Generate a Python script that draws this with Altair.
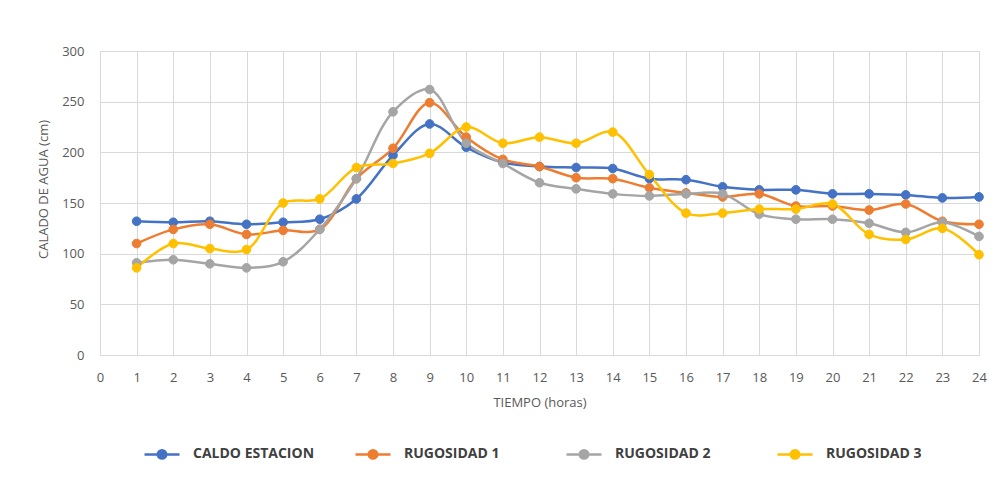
import altair as alt
import pandas as pd

hours = list(range(1, 25))
series_names = ["CALDO ESTACION", "RUGOSIDAD 1", "RUGOSIDAD 2", "RUGOSIDAD 3"]
caldo = [132, 131, 132, 129, 131, 134, 154, 197, 228, 205, 190, 186, 185, 184, 174, 173, 166, 163, 163, 159, 159, 158, 155, 156]
rug1 = [110, 124, 129, 119, 123, 124, 174, 204, 249, 215, 193, 186, 175, 174, 165, 160, 156, 159, 147, 147, 143, 149, 132, 129]
rug2 = [91, 94, 90, 86, 92, 124, 174, 240, 262, 209, 189, 170, 164, 159, 157, 159, 159, 139, 134, 134, 130, 121, 131, 117]
rug3 = [86, 110, 105, 104, 150, 154, 185, 189, 199, 225, 209, 215, 209, 220, 178, 140, 140, 144, 144, 149, 119, 114, 125, 99]
colors = ["#4472C4", "#ED7D31", "#A5A5A5", "#FFC000"]
x_ticks = list(range(0, 25))
y_ticks = [0, 50, 100, 150, 200, 250, 300]

rows = []
for name, vals in zip(series_names, [caldo, rug1, rug2, rug3]):
    for h, v in zip(hours, vals):
        rows.append({"hora": h, "calado": v, "serie": name, "orden": series_names.index(name)})
df = pd.DataFrame(rows)

sym = "M-1,0L1,0M0.24,0A0.24,0.24,0,1,1,-0.24,0A0.24,0.24,0,1,1,0.24,0Z"

leg = alt.Legend(
    title=None, orient="none", legendX=43, legendY=384,
    direction="horizontal", columns=4, gridAlign="all", columnPadding=35,
    symbolType=sym, symbolSize=1225, symbolStrokeWidth=2.5,
    labelFont="Open Sans", labelFontSize=14, labelFontWeight="bold",
    labelColor="#404040", labelOffset=12, labelLimit=300,
)
scale = alt.Scale(domain=series_names, range=colors)
stroke = alt.Stroke("serie:N", scale=scale, sort=series_names, legend=leg)
fill = alt.Fill("serie:N", scale=scale, sort=series_names, legend=leg)

x = alt.X("hora:Q", scale=alt.Scale(domain=[0, 24], nice=False),
          axis=alt.Axis(values=x_ticks, title="TIEMPO (horas)", ticks=False,
                        labelPadding=16, titlePadding=12, labelFlush=False))
y = alt.Y("calado:Q", scale=alt.Scale(domain=[0, 300], nice=False),
          axis=alt.Axis(values=y_ticks, title="CALADO DE AGUA (cm)", ticks=False,
                        labelPadding=16, titlePadding=11, titleY=138))

base = alt.Chart(df)
lines = base.mark_line(interpolate="catmull-rom", strokeWidth=2.5).encode(
    x=x, y=y, stroke=stroke, order="orden:Q")
points = base.mark_point(size=75, opacity=1, filled=True, strokeWidth=1).encode(
    x=x, y=y, fill=fill, stroke=stroke)

border = alt.Chart(pd.DataFrame({"a": [0]})).mark_rule(color="#d9d9d9").encode(
    x=alt.value(-93), y=alt.value(-51), y2=alt.value(427))

chart = alt.layer(border, lines, points).properties(
    width=879, height=304, autosize="none",
    padding={"left": 92, "top": 43, "right": 8, "bottom": 115},
).configure_axis(
    labelFont="Open Sans", labelFontSize=13, labelColor="#595959",
    titleFont="Open Sans", titleFontSize=13, titleColor="#595959", titleFontWeight="normal",
    gridColor="#d9d9d9", domainColor="#d9d9d9",
).configure_view(stroke="#d9d9d9")

chart.save("out.html", embed_options={"renderer": "svg", "actions": False})
